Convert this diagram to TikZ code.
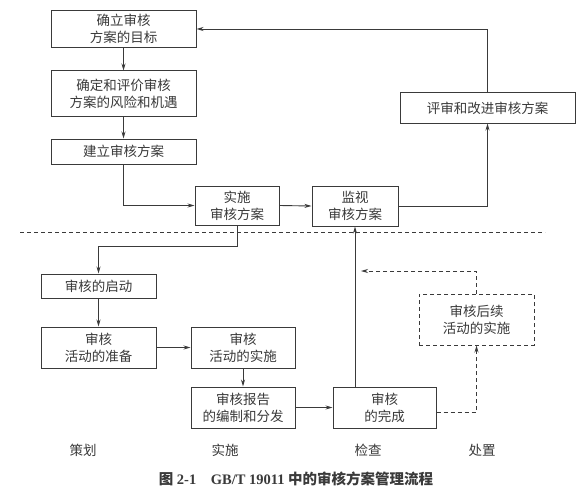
\documentclass[tikz,border=0pt]{standalone}
\usepackage{fontspec}
\setmainfont{Liberation Serif}
\newfontfamily\cjk{Noto Sans CJK SC}
\usetikzlibrary{arrows.meta,calc}
\definecolor{ink}{HTML}{3A3A3A}
\begin{document}
\begin{tikzpicture}[x=1pt,y=-1pt,
  box/.style={draw=ink,line width=1pt,rectangle,inner sep=0pt,align=center,
    font=\cjk\fontsize{13.5}{17}\selectfont,text=ink},
  dbox/.style={box,dashed,dash pattern=on 4pt off 3pt},
  arr/.style={draw=ink,line width=0.9pt,-{Stealth[length=7pt,width=4pt]}},
  darr/.style={arr,dash pattern=on 4pt off 3pt},
  lab/.style={font=\cjk\fontsize{13.5}{17}\selectfont,text=ink}]
\useasboundingbox (0,0) rectangle (585,500);
\fill[white] (0,0) rectangle (585,500);
\node[box,minimum width=145pt,minimum height=37pt] (A) at (123.5,29) {确立审核\\方案的目标};
\node[box,minimum width=145pt,minimum height=45pt] (B) at (123.5,93.5) {确定和评价审核\\方案的风险和机遇};
\node[box,minimum width=145pt,minimum height=25pt] (C) at (123.5,151.5) {建立审核方案};
\node[box,minimum width=84pt,minimum height=39pt] (D) at (237,205.5) {实施\\审核方案};
\node[box,minimum width=86pt,minimum height=40pt] (E) at (355,206) {监视\\审核方案};
\node[box,minimum width=175pt,minimum height=30pt] (F) at (487.5,108) {评审和改进审核方案};
\node[box,minimum width=115pt,minimum height=24pt] (G) at (98.5,286) {审核的启动};
\node[box,minimum width=115pt,minimum height=41pt] (H) at (98.5,347.5) {审核\\活动的准备};
\node[box,minimum width=104pt,minimum height=41pt] (I) at (243,347.5) {审核\\活动的实施};
\node[box,minimum width=104pt,minimum height=41pt] (J) at (243,407.5) {审核报告\\的编制和分发};
\node[box,minimum width=103pt,minimum height=41pt] (K) at (384.5,408) {审核\\的完成};
\node[dbox,minimum width=115pt,minimum height=51pt] (L) at (476.5,319.5) {审核后续\\活动的实施};
\coordinate (m) at (361,271);
% connectors
\draw[arr] (A.south) -- (B.north);
\draw[arr] (B.south) -- (C.north);
\draw[arr] (C.south) |- (D.west);
\draw[arr] (D.east) -- (E.west);
\draw[arr] (E.east) -| (F.south);
\draw[arr] (F.north) |- (A.east);
\draw[draw=ink,line width=0.9pt,dash pattern=on 4pt off 3pt] (20,232) -- (545,232);
\draw[arr] (D.south) -- ++(0,21) -| (G.north);
\draw[arr] (G.south) -- (H.north);
\draw[arr] (H.east) -- (I.west);
\draw[arr] (I.south) -- (J.north);
\draw[arr] (J.east) -- (K.west |- J.east);
\draw[arr] (K.north -| E.south) -- (E.south);
\draw[darr] ([yshift=-4pt]K.east) -| (L.south);
\draw[darr] (L.north) |- (m);
% labels
\node[lab] (p1) at (83,450) {策划};
\node[lab] (p2) at (225,450) {实施};
\node[lab] (p3) at (368,450) {检查};
\node[lab] (p4) at (482,450) {处置};
\node[text=ink,font=\fontsize{14.5}{17}\selectfont\bfseries] (cap) at (296,479)
  {{\cjk 图} 2-1\quad GB/T 19011 {\cjk 中的审核方案管理流程}};
\end{tikzpicture}
\end{document}
